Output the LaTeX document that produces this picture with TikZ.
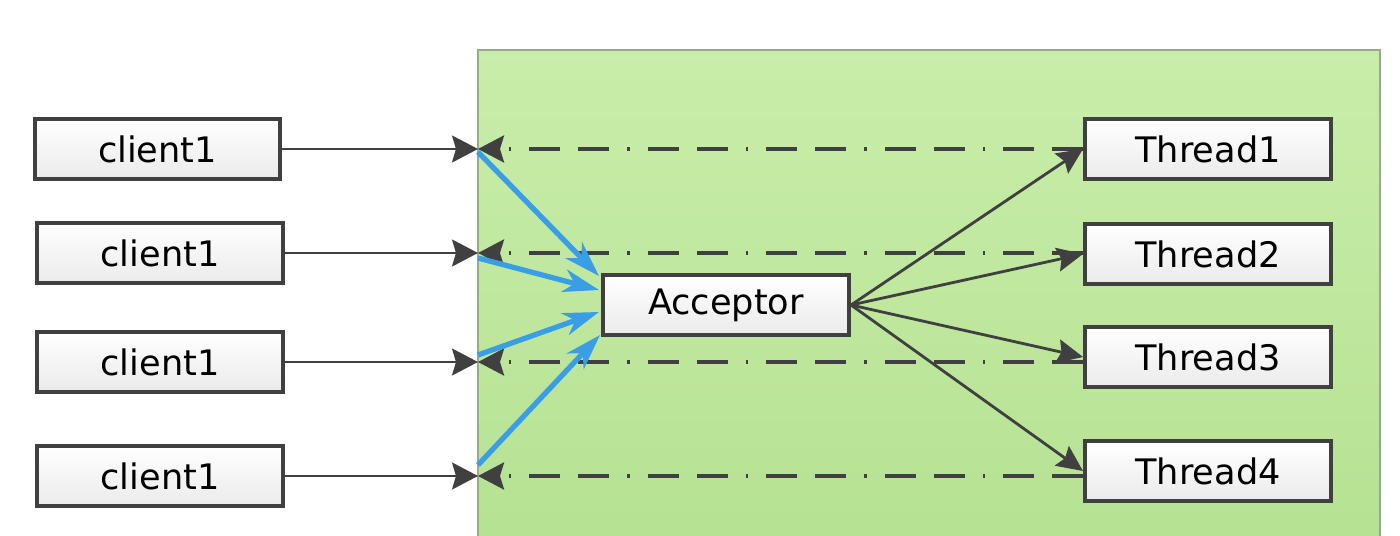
\documentclass[tikz,border=0pt]{standalone}
\usepackage{fontspec}
\setmainfont{DejaVu Sans}
\usetikzlibrary{arrows.meta}
\definecolor{panelTop}{HTML}{C9EDAA}
\definecolor{panelBot}{HTML}{B6E293}
\definecolor{panelEdge}{HTML}{9AA88E}
\definecolor{lineGray}{HTML}{404040}
\definecolor{flowBlue}{HTML}{3A9EE6}
\tikzset{
  box/.style={draw=lineGray, line width=2.3pt, top color=white, bottom color=black!8,
    minimum width=4.92cm, minimum height=1.2cm, inner sep=0pt, font=\fontsize{20}{24}\selectfont},
  callarrow/.style={draw=lineGray, line width=1.3pt, -{Stealth[length=0.52cm, width=0.54cm, inset=0.08cm]}},
  backarrow/.style={draw=lineGray, line width=2pt, line cap=butt,
    dash pattern=on 0.62cm off 0.36cm on 0.62cm off 0.36cm on 0.05cm off 0.36cm,
    -{Stealth[length=0.52cm, width=0.54cm, inset=0.08cm]}},
  blueflow/.style={draw=flowBlue, line width=3pt, -{Stealth[length=0.72cm, width=0.46cm, inset=0.22cm]}},
  workarrow/.style={draw=lineGray, line width=1.6pt, -{Stealth[length=0.52cm, width=0.48cm, inset=0.08cm]}}
}
\begin{document}
\begin{tikzpicture}[x=0.02cm, y=-0.02cm]
    \useasboundingbox (0,0) rectangle (1400,536);
    % panel
    \shade[top color=panelTop, bottom color=panelBot] (478,50) rectangle (1380,536);
    \draw[panelEdge, line width=1.2pt] (478,536) -- (478,50) -- (1380,50) -- (1380,536);
    % points on the panel edge
    \coordinate (p1) at (478,149);
    \coordinate (p2) at (478,253);
    \coordinate (p3) at (478,362);
    \coordinate (p4) at (478,476);
    % clients
    \node[box] (c1) at (157.5,149) {client1};
    \node[box] (c2) at (160,253) {client1};
    \node[box] (c3) at (160,362) {client1};
    \node[box] (c4) at (160,476) {client1};
    % acceptor and threads
    \node[box] (acc) at (726,305) {Acceptor};
    \node[box] (t1) at (1208,149) {Thread1};
    \node[box] (t2) at (1208,254) {Thread2};
    \node[box] (t3) at (1208,357) {Thread3};
    \node[box] (t4) at (1208,471) {Thread4};
    % replies
    \draw[backarrow] (t1.west) -- (p1);
    \draw[backarrow] (t2.west |- p2) -- (p2);
    \draw[backarrow] (t3.west |- p3) -- (p3);
    \draw[backarrow] (t4.west |- p4) -- (p4);
    % requests
    \draw[callarrow] (c1) -- (p1);
    \draw[callarrow] (c2) -- (p2);
    \draw[callarrow] (c3) -- (p3);
    \draw[callarrow] (c4) -- (p4);
    % to acceptor
    \draw[blueflow] ([yshift=-0.06cm]p1) -- ([xshift=-0.04cm, yshift=0.58cm]acc.west);
    \draw[blueflow] ([yshift=-0.1cm]p2) -- ([xshift=-0.04cm, yshift=0.3cm]acc.west);
    \draw[blueflow] ([yshift=0.14cm]p3) -- ([xshift=-0.04cm, yshift=-0.14cm]acc.west);
    \draw[blueflow] ([yshift=0.22cm]p4) -- ([xshift=-0.02cm, yshift=-0.6cm]acc.west);
    % dispatch
    \draw[workarrow] (acc.east) -- (t1.west);
    \draw[workarrow] (acc.east) -- (t2.west);
    \draw[workarrow] (acc.east) -- (t3.west);
    \draw[workarrow] (acc.east) -- (t4.west);
\end{tikzpicture}
\end{document}
